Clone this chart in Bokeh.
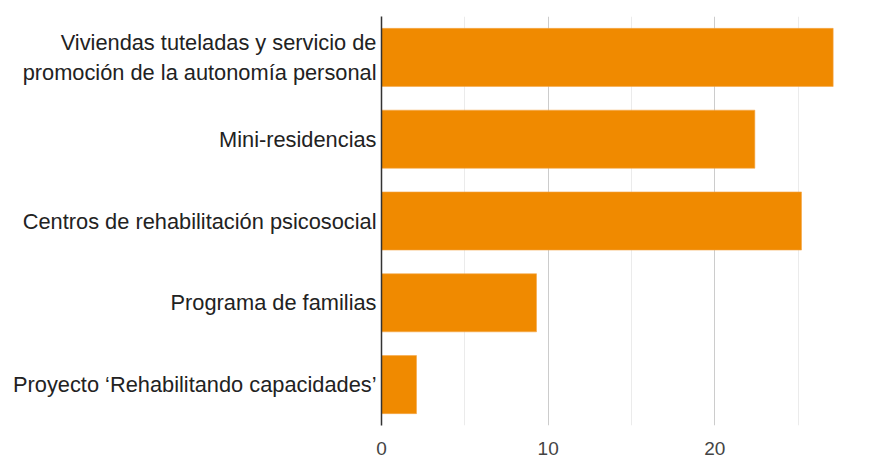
from bokeh.plotting import figure
from bokeh.models import FixedTicker, FactorRange, Range1d
from bokeh.embed import file_html
from bokeh.resources import INLINE

categories = [
    "Viviendas tuteladas y servicio de\npromoción de la autonomía personal",
    "Mini-residencias",
    "Centros de rehabilitación psicosocial",
    "Programa de familias",
    "Proyecto ‘Rehabilitando capacidades’",
]
values = [27.1, 22.4, 25.2, 9.3, 2.1]
x_ticks = [0, 10, 20]
x_minor = [5, 15, 25]

p = figure(
    width=875, height=457,
    y_range=FactorRange(factors=list(reversed(categories))),
    x_range=Range1d(0, 29.64),
    output_backend="svg", toolbar_location=None,
    min_border_left=381, min_border_right=0, min_border_top=16, min_border_bottom=32,
)
p.outline_line_color = None
p.background_fill_color = "white"

p.hbar(y=categories, right=values, height=0.71, color="#f08a00", line_color="#f5a84a", line_width=0.6)

p.xaxis.ticker = FixedTicker(ticks=x_ticks, minor_ticks=x_minor)
p.xaxis.axis_line_color = None
p.xaxis.major_tick_line_color = None
p.xaxis.minor_tick_line_color = None
p.xaxis.major_label_text_font = "Liberation Sans"
p.xaxis.major_label_text_font_size = "19px"
p.xaxis.major_label_text_color = "#444444"
p.xaxis.major_label_standoff = 12
p.xaxis.major_tick_out = 0
p.xaxis.major_tick_in = 0

p.xgrid.grid_line_color = "#cccccc"
p.xgrid.minor_grid_line_color = "#ebebeb"
p.ygrid.grid_line_color = None

p.yaxis.axis_line_color = "#333333"
p.yaxis.axis_line_width = 1.5
p.yaxis.major_tick_line_color = None
p.yaxis.minor_tick_line_color = None
p.yaxis.major_tick_out = 0
p.yaxis.major_tick_in = 0
p.yaxis.major_label_standoff = 5
p.yaxis.major_label_text_font = "Liberation Sans"
p.yaxis.major_label_text_font_size = "21.8px"
p.yaxis.major_label_text_color = "#222222"

open("out.html", "w").write(file_html(p, INLINE))
